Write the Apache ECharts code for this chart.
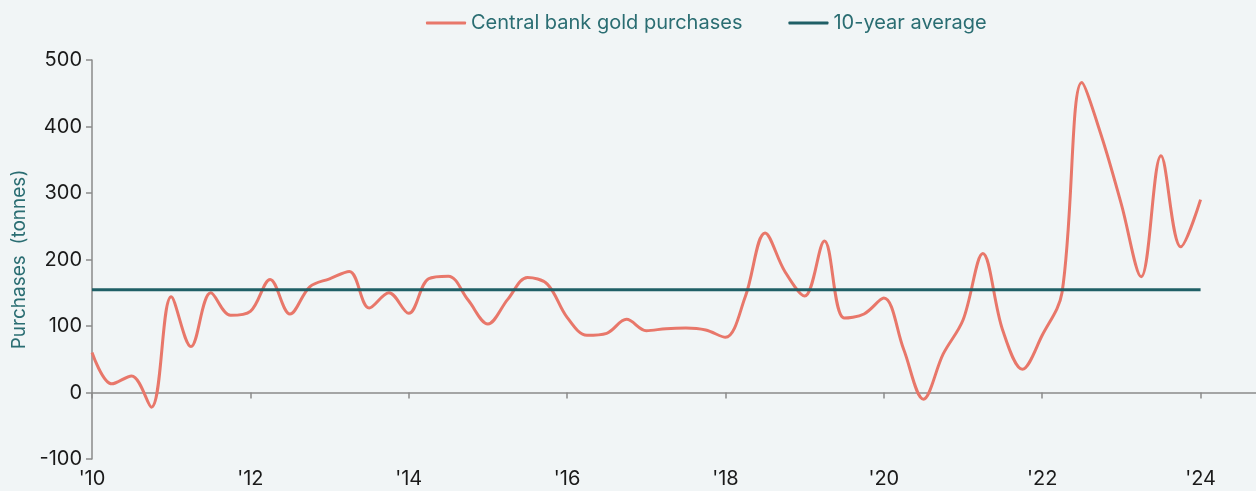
<!DOCTYPE html>
<html>
<head>
<meta charset="utf-8">
<script src="https://cdn.jsdelivr.net/npm/echarts@6/dist/echarts.min.js"></script>
<style>
html,body{margin:0;padding:0;background:#f1f5f6;}
#chart{width:1256px;height:491px;}
</style>
</head>
<body>
<div id="chart"></div>
<script>
// Quarterly central bank gold purchases (tonnes), 2010 Q1 .. 2024 Q1
const startYear = 2010;
const purchases = [
  60, 13, 25, -22,
  144, 69, 150, 116,
  122, 170, 118, 159,
  171, 182, 127, 150,
  119, 171, 175, 139,
  103, 140, 173, 163,
  113, 86, 89, 110,
  93, 96, 97, 94,
  83, 144, 240, 182,
  145, 228, 112, 118,
  142, 65, -10, 58,
  109, 209, 94, 35,
  86, 150, 466, 385,
  283, 174, 356, 219,
  290
];
const tenYearAverage = 154.5;
const avgSpan = [2010, 2024];
const yTicks = [-100, 0, 100, 200, 300, 400, 500];
const xTickYears = [2010, 2012, 2014, 2016, 2018, 2020, 2022, 2024];

const seriesData = purchases.map((v, i) => [startYear + i * 0.25, v]);
const avgData = avgSpan.map(y => [y, tenYearAverage]);

const FONT = 'Inter, "Noto Sans", sans-serif';
const TEAL = '#1f5f66';
const SALMON = '#e8776a';

const chart = echarts.init(document.getElementById('chart'));
chart.setOption({
  backgroundColor: '#f1f5f6',
  animation: false,
  textStyle: { fontFamily: FONT },
  legend: {
    left: 421, top: 8,
    icon: 'roundRect',
    itemWidth: 40, itemHeight: 3, itemGap: 46,
    textStyle: { fontSize: 20, color: '#2a6d72', fontFamily: FONT },
    data: ['Central bank gold purchases', '10-year average']
  },
  grid: { left: 92, right: 0, top: 60, bottom: 32, containLabel: false },
  xAxis: [
    {
      type: 'value', min: 2010, max: 2024.7,
      axisLine: { show: true, onZero: true, lineStyle: { color: '#8a8a8a', width: 1.5 } },
      axisTick: { show: true, length: 6, lineStyle: { color: '#8a8a8a', width: 1.5 },
        customValues: xTickYears },
      axisLabel: { show: false },
      splitLine: { show: false }
    },
    {
      type: 'value', min: 2010, max: 2024.7, position: 'bottom',
      axisLine: { show: false, onZero: false },
      axisTick: { show: false },
      axisLabel: {
        show: true, margin: 10, fontSize: 20, color: '#1a1a1a', fontFamily: FONT,
        customValues: xTickYears,
        formatter: v => "'" + String(Math.round(v)).slice(2)
      },
      splitLine: { show: false }
    }
  ],
  yAxis: {
    type: 'value', min: -100, max: 500, interval: 100,
    name: 'Purchases  (tonnes)', nameLocation: 'middle', nameGap: 62, nameRotate: 90,
    nameTextStyle: { fontSize: 19, color: '#2a6d72', fontFamily: FONT },
    axisLine: { show: true, lineStyle: { color: '#8a8a8a', width: 1.5 } },
    axisTick: { show: true, length: 6, lineStyle: { color: '#8a8a8a', width: 1.5 } },
    axisLabel: { fontSize: 20, color: '#1a1a1a', margin: 10, fontFamily: FONT,
      formatter: v => yTicks.includes(v) ? String(v) : '' },
    splitLine: { show: false }
  },
  series: [
    {
      name: 'Central bank gold purchases', type: 'line', xAxisIndex: 0,
      data: seriesData, smooth: 0.35, symbol: 'none',
      lineStyle: { color: SALMON, width: 3 }, itemStyle: { color: SALMON }
    },
    {
      name: '10-year average', type: 'line', xAxisIndex: 0,
      data: avgData, symbol: 'none',
      lineStyle: { color: TEAL, width: 3 }, itemStyle: { color: TEAL }
    }
  ]
});
</script>
</body>
</html>
